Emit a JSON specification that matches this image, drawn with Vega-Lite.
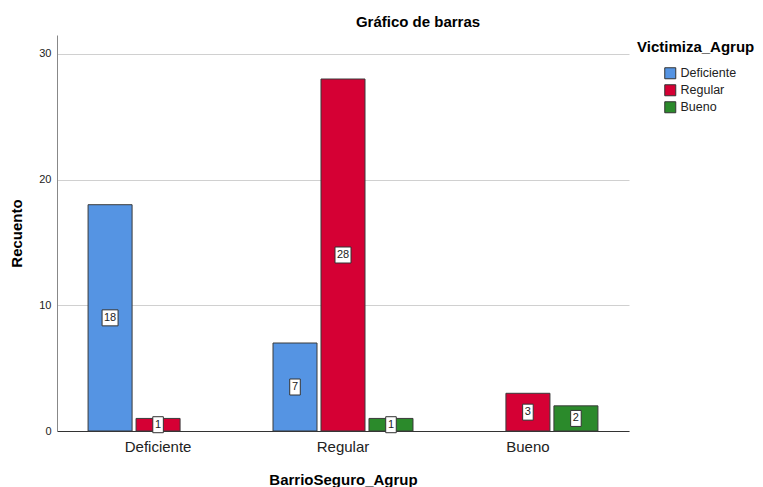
{
  "$schema": "https://vega.github.io/schema/vega-lite/v6.json",
  "width": 572,
  "height": 396,
  "autosize": {"type": "none"},
  "padding": {"left": 57, "top": 35, "right": 134, "bottom": 56},
  "background": "white",
  "config": {
    "font": "Liberation Sans",
    "view": {"stroke": null}
  },
  "title": {
    "text": "Gráfico de barras",
    "anchor": "middle",
    "frame": "group",
    "dx": 75,
    "dy": 15,
    "offset": 8,
    "baseline": "alphabetic",
    "fontSize": 15,
    "fontWeight": "bold",
    "font": "Liberation Sans",
    "color": "#000000"
  },
  "data": {
    "values": [
      {"barrio": "Deficiente", "vict": "Deficiente", "n": 18},
      {"barrio": "Deficiente", "vict": "Regular", "n": 1},
      {"barrio": "Regular", "vict": "Deficiente", "n": 7},
      {"barrio": "Regular", "vict": "Regular", "n": 28},
      {"barrio": "Regular", "vict": "Bueno", "n": 1},
      {"barrio": "Bueno", "vict": "Regular", "n": 3},
      {"barrio": "Bueno", "vict": "Bueno", "n": 2}
    ]
  },
  "encoding": {
    "x": {
      "field": "barrio",
      "type": "nominal",
      "sort": ["Deficiente", "Regular", "Bueno"],
      "scale": {"domain": ["Deficiente", "Regular", "Bueno"], "paddingInner": 0.243, "paddingOuter": 0.168},
      "axis": {
        "title": "BarrioSeguro_Agrup",
        "labelAngle": 0,
        "labelFontSize": 15,
        "labelColor": "#222222",
        "labelPadding": 8,
        "ticks": false,
        "domainColor": "#333333",
        "titleFontSize": 15,
        "titleFontWeight": "bold",
        "titleColor": "#000000",
        "titlePadding": 18
      }
    },
    "xOffset": {
      "field": "vict",
      "type": "nominal",
      "sort": ["Deficiente", "Regular", "Bueno"],
      "scale": {"domain": ["Deficiente", "Regular", "Bueno"], "paddingInner": 0.083, "paddingOuter": 0}
    }
  },
  "layer": [
    {
      "mark": {"type": "bar", "stroke": "#3a3a3a", "strokeWidth": 1},
      "encoding": {
        "y": {
          "field": "n",
          "type": "quantitative",
          "scale": {"domain": [0, 31.5], "nice": false},
          "axis": {
            "title": "Recuento",
            "values": [0, 10, 20, 30],
            "labelFontSize": 11,
            "labelColor": "#222222",
            "labelPadding": 6,
            "ticks": false,
            "domainColor": "#888888",
            "grid": true,
            "gridColor": "#d0d0d0",
            "gridWidth": 1,
            "titleFontSize": 15,
            "titleFontWeight": "bold",
            "titleColor": "#000000",
            "titlePadding": 14
          }
        },
        "color": {
          "field": "vict",
          "type": "nominal",
          "sort": ["Deficiente", "Regular", "Bueno"],
          "scale": {"domain": ["Deficiente", "Regular", "Bueno"], "range": ["#5594e3", "#d50034", "#2b8a2b"]},
          "legend": {
            "title": "Victimiza_Agrup",
            "orient": "none",
            "legendX": 580,
            "legendY": 5,
            "titleFontSize": 15,
            "titleFontWeight": "bold",
            "titleColor": "#000000",
            "titlePadding": 12,
            "symbolType": "square",
            "symbolSize": 121,
            "symbolStrokeColor": "#333333",
            "symbolStrokeWidth": 1,
            "symbolOpacity": 1,
            "symbolOffset": 27,
            "labelFontSize": 12.5,
            "labelColor": "#222222",
            "labelOffset": 4,
            "rowPadding": 1
          }
        }
      }
    },
    {
      "mark": {"type": "point", "filled": true, "fill": "white", "stroke": "#333333", "strokeWidth": 1, "opacity": 1, "size": 256},
      "encoding": {
        "y": {"field": "n", "type": "quantitative", "scale": {"domain": [0, 63], "nice": false}, "axis": null},
        "shape": {
          "condition": {"test": "datum.n >= 10", "value": "M-1,-1L1,-1L1,1L-1,1Z"},
          "value": "M-0.66,-1L0.66,-1L0.66,1L-0.66,1Z"
        }
      }
    },
    {
      "mark": {"type": "text", "fontSize": 11, "color": "#222222", "baseline": "middle", "align": "center"},
      "encoding": {
        "y": {"field": "n", "type": "quantitative", "scale": {"domain": [0, 63], "nice": false}, "axis": null},
        "text": {"field": "n", "type": "quantitative"}
      }
    }
  ],
  "resolve": {"scale": {"y": "independent"}}
}
